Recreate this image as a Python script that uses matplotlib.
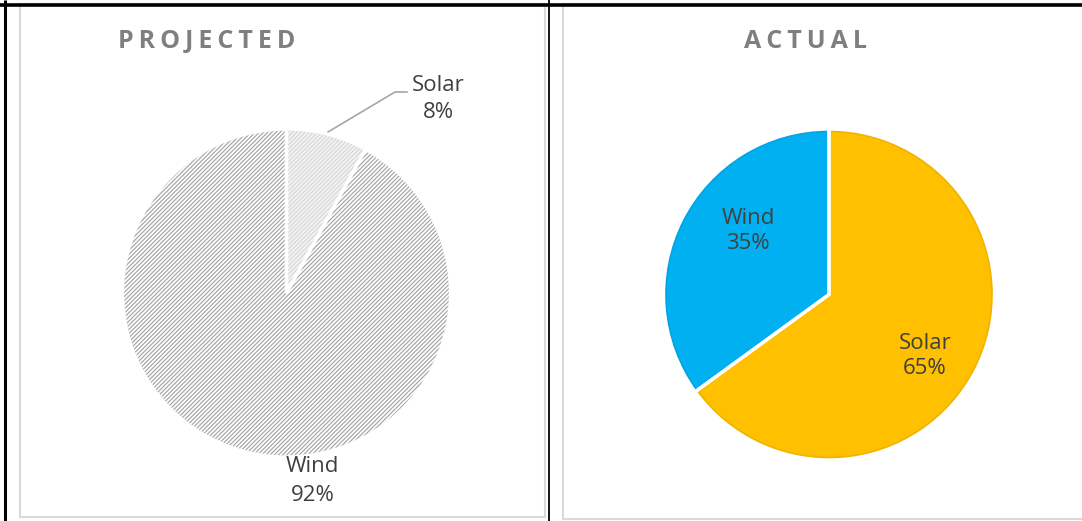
import matplotlib.pyplot as plt
from matplotlib.patches import Rectangle, Circle

plt.rcParams['font.family'] = ['Open Sans', 'DejaVu Sans']
plt.rcParams['hatch.linewidth'] = 0.85

# data
sources = ["Solar", "Wind"]
projected = [8, 92]
actual = [65, 35]

W, H = 1082, 521
fig = plt.figure(figsize=(W / 100, H / 100), dpi=100)

# pixel-space overlay for frames and text
bg = fig.add_axes([0, 0, 1, 1], zorder=0)
bg.set_xlim(0, W)
bg.set_ylim(H, 0)
bg.axis('off')

# chart area borders (light grey) and table rules (black)
bg.add_patch(Rectangle((20, 4), 525, 513, fill=False, ec='#d9d9d9', lw=1.5))
bg.add_patch(Rectangle((563, 4), 530, 515, fill=False, ec='#d9d9d9', lw=1.5))
bg.plot([0, W], [5, 5], color='black', lw=2.6, solid_capstyle='butt')
bg.plot([5, 5], [0, H], color='black', lw=2.2, solid_capstyle='butt')
bg.plot([549, 549], [0, H], color='black', lw=1.3, solid_capstyle='butt')


def pie_axes(cx, cy, r):
    return fig.add_axes([(cx - r) / W, (H - cy - r) / H, 2 * r / W, 2 * r / H], zorder=1)


txt = dict(transform=bg.transData, ha='center', va='center', color='#404040', fontsize=16)
title = dict(transform=bg.transData, ha='center', va='center', color='#7f7f7f',
             fontsize=18, fontweight='bold')
sp = '\u2009'

# projected: hatched grey
ax1 = pie_axes(286.5, 293, 164)
ax1.pie(projected, startangle=90, counterclock=False,
        colors=['#f4f4f4', 'white'], hatch=['////////', '////////'],
        wedgeprops=dict(linewidth=0))
ax1.patches[0].set_edgecolor('#d6d6d6')
ax1.patches[1].set_edgecolor('#a4a4a4')
for p in ax1.patches:
    p.set_linewidth(0)
ax1.add_patch(Circle((0, 0), 0.995, fill=False, ec='#bdbdbd', lw=1.2, alpha=0.6))
ax1.pie(projected, startangle=90, counterclock=False, colors=['none', 'none'],
        wedgeprops=dict(linewidth=2.4, edgecolor='white'))
ax1.set_xlim(-1, 1)
ax1.set_ylim(-1, 1)

fig.text(207, 41, sp.join("PROJECTED"), **title)
bg.plot([328, 395, 407], [132, 92, 92], color='#a6a6a6', lw=1.2)
fig.text(438, 99, f"{sources[0]}\n{projected[0]}%", linespacing=1.4, **txt)
fig.text(312.5, 481, f"{sources[1]}\n{projected[1]}%", linespacing=1.45, **txt)

# actual: solid colours
ax2 = pie_axes(829, 294.5, 165.5)
ax2.pie(actual, startangle=90, counterclock=False, colors=['#ffc000', '#00b0f0'],
        wedgeprops=dict(linewidth=0))
ax2.add_patch(Circle((0, 0), 0.99, fill=False, ec='black', lw=2.5, alpha=0.06))
ax2.pie(actual, startangle=90, counterclock=False, colors=['none', 'none'],
        wedgeprops=dict(linewidth=2.4, edgecolor='white'))
ax2.set_xlim(-1, 1)
ax2.set_ylim(-1, 1)

fig.text(805, 41, sp.join("ACTUAL"), **title)
fig.text(925, 356, f"{sources[0]}\n{actual[0]}%", linespacing=1.2, **txt)
fig.text(748, 231, f"{sources[1]}\n{actual[1]}%", linespacing=1.2, **txt)

fig.savefig("out.png", dpi=100)
